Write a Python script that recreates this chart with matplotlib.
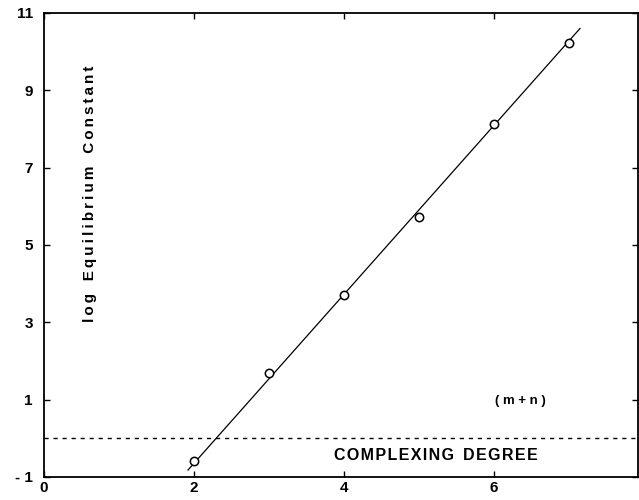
import numpy as np
import matplotlib
matplotlib.use("Agg")
import matplotlib.pyplot as plt

# data
complexing_degree = [2, 3, 4, 5, 6, 7]
log_k = [-0.58, 1.70, 3.70, 5.73, 8.14, 10.22]

# fitted line, drawn from end to end as in the figure
line_x = [1.92, 7.15]
line_y = [-0.82, 10.60]

x_ticks = [0, 2, 4, 6]
y_ticks = [-1, 1, 3, 5, 7, 9, 11]
y_tick_labels = ["- 1", "1", "3", "5", "7", "9", "11"]

plt.rcParams['font.family'] = ['Liberation Sans', 'DejaVu Sans']


def spaced(s, gap="\u2009", word_gap="   "):
    # wide letter spacing like the typeset original
    return word_gap.join(gap.join(w) for w in s.split())


fig = plt.figure(figsize=(6.39, 5.0), dpi=100)
ax = fig.add_axes([0.069, 0.046, 0.929, 0.928])

ax.plot(line_x, line_y, color="black", lw=0.9)
ax.plot(complexing_degree, log_k, "o", mfc="white", mec="black",
        ms=6, mew=1.1)
ax.axhline(0, color="black", lw=1.0, ls=(0, (3, 3.5)))

ax.set_xlim(0, 7.92)
ax.set_ylim(-1, 11)
ax.set_xticks(x_ticks)
ax.set_yticks(y_ticks)
ax.set_yticklabels(y_tick_labels)
ax.tick_params(direction="in", length=4, width=1, top=True, right=True,
               labelsize=11)
for lab in ax.get_xticklabels() + ax.get_yticklabels():
    lab.set_fontweight("bold")
ax.tick_params(axis="x", pad=3)
ax.tick_params(axis="y", pad=8)

for s in ax.spines.values():
    s.set_linewidth(1.3)

ax.text(0.61, 6.32, spaced("log Equilibrium Constant"), rotation=90,
        fontsize=11, fontweight="bold", ha="center", va="center")
ax.text(6.36, 0.97, "( m + n )", fontsize=9.5, fontweight="bold",
        ha="center", va="center")
ax.text(5.23, -0.45, spaced("COMPLEXING DEGREE", gap="\u200a", word_gap="  "),
        fontsize=11.5, fontweight="bold", ha="center", va="center")

fig.savefig("out.png", dpi=100)
